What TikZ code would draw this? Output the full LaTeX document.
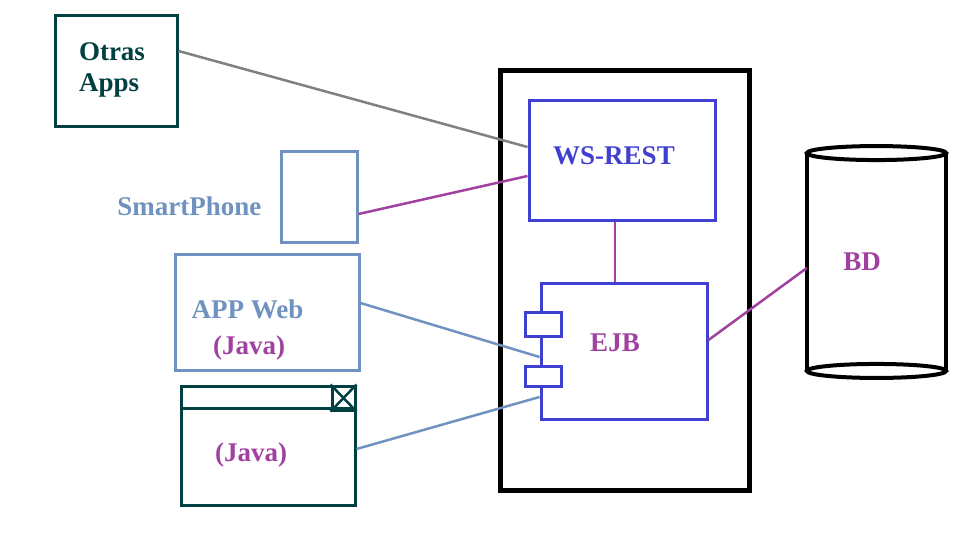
\documentclass[tikz,border=0pt]{standalone}
\usepackage{fontspec}
\setmainfont{Liberation Serif}
\usepackage{xcolor}
\usetikzlibrary{positioning}

\definecolor{tealdark}{RGB}{0,64,64}
\definecolor{lightblue}{RGB}{112,146,192}
\definecolor{violeta}{RGB}{160,64,160}
\definecolor{azul}{RGB}{64,64,208}
\definecolor{gris}{RGB}{128,128,128}

\begin{document}
\begin{tikzpicture}[x=1pt, y=-1pt,
	lbl/.style={font=\bfseries\fontsize{27}{30}\selectfont, inner sep=0pt},
	box/.style={draw, line width=3pt, inner sep=0pt, rectangle},
	link/.style={line width=2.5pt}]
					\useasboundingbox (0,0) rectangle (969,533);
					
					% contenedor
					\draw[line width=5pt] (500,70.5) rectangle (749,490);
					
					% clientes
					\node[box, tealdark, minimum width=122pt, minimum height=111pt] (otras) at (116,70.5) {};
					\node[lbl, tealdark, align=left] (otraslbl) at (112,70) {Otras\\[1pt]Apps};
					\node[box, lightblue, minimum width=76pt, minimum height=91pt] (phone) at (319,196.5) {};
					\node[lbl, lightblue, left=18pt of phone, yshift=-10pt] (phonelbl) {SmartPhone};
					\node[box, lightblue, minimum width=184pt, minimum height=116pt] (appweb) at (267,312) {};
					\node[lbl, lightblue, anchor=base] (appweblbl) at (247.5,318) {APP Web};
					\node[lbl, violeta, anchor=base] (appjava) at (249,354) {(Java)};
					\node[box, tealdark, minimum width=174pt, minimum height=119pt] (win) at (268,445.5) {};
					\draw[tealdark, line width=3pt] ([yshift=-24pt]win.north west) -- ([yshift=-24pt]win.north east);
					\node[box, tealdark, minimum width=23pt, minimum height=24pt] (closebtn) at (343.5,398) {};
					\draw[tealdark, line width=2.5pt] (closebtn.north west) -- (closebtn.south east)
						(closebtn.south west) -- (closebtn.north east);
					\node[lbl, violeta] (winjava) at (251,455) {(Java)};
					
					% servidor
					\node[box, azul, minimum width=186pt, minimum height=120pt] (wsrest) at (622,160) {};
					\node[lbl, azul] (wsrestlbl) at (614,156) {WS-REST};
					\node[box, azul, fill=white, minimum width=166pt, minimum height=136pt] (ejb) at (624,351) {};
					\node[lbl, violeta] (ejblbl) at (615,343) {EJB};
					\foreach \name/\y/\h in {portA/324/24, portB/376.5/20}
					{
						\node[box, azul, fill=white, minimum width=36pt, minimum height=\h pt] (\name) at (543,\y) {};
					}
					
					% base de datos
					\node[minimum width=139pt, minimum height=217.5pt, inner sep=0pt] (bd) at (876.5,262) {};
					\draw[line width=4pt] (bd.north west) -- (bd.south west)
						(bd.north east) -- (bd.south east);
					\draw[line width=4pt] (bd.north) ellipse [x radius=69.5, y radius=7];
					\draw[line width=4pt] (bd.south) ellipse [x radius=69.5, y radius=7];
					\node[lbl, violeta] (bdlbl) at (862,262) {BD};
					
					% conexiones
					\draw[link, gris] ([yshift=19.5pt]otras.east) -- ([yshift=13pt]wsrest.west);
					\draw[link, violeta] ([yshift=-17.5pt]phone.east) -- ([yshift=-16pt]wsrest.west);
					\draw[link, violeta] ([xshift=-7pt]wsrest.south) -- ([xshift=-7pt]wsrest.south |- ejb.north);
					\draw[link, lightblue] ([yshift=9pt]appweb.east) -- ([yshift=-6pt]ejb.west);
					\draw[link, lightblue] ([yshift=-3.5pt]win.east) -- ([yshift=-46pt]ejb.west);
					\draw[link, violeta] ([yshift=11pt]ejb.east) -- ([yshift=-6pt]bd.west);
				\end{tikzpicture}
\end{document}
